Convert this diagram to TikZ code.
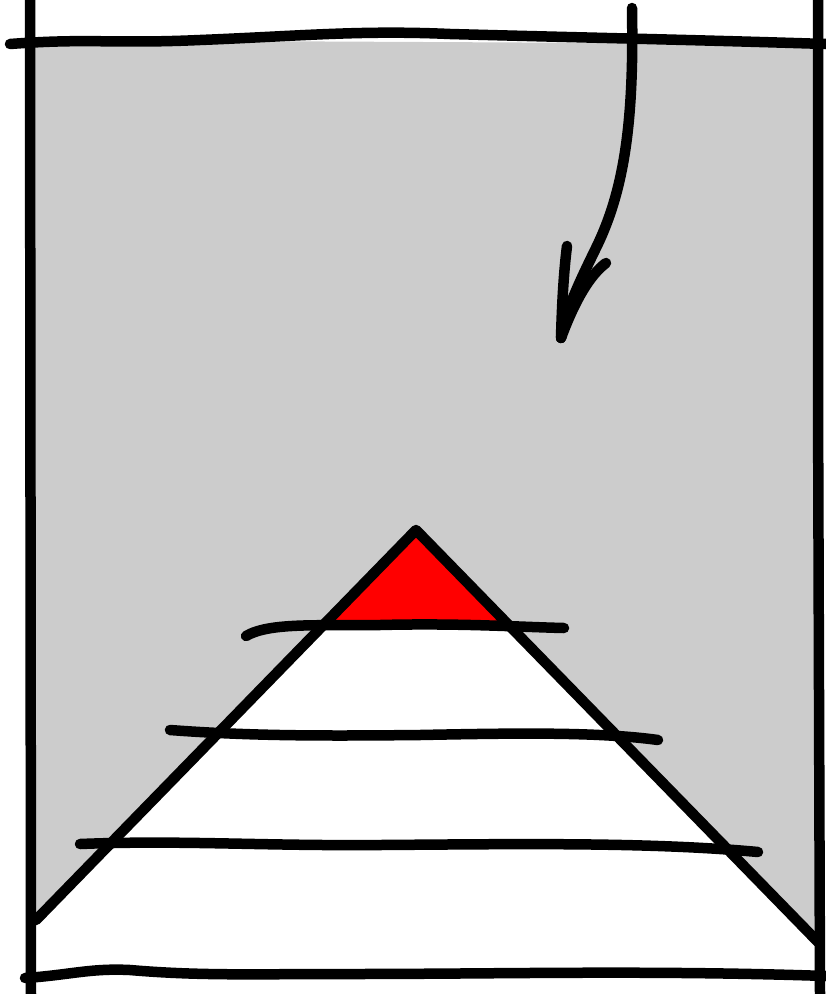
\documentclass[tikz,border=0pt]{standalone}
\begin{document}
\begin{tikzpicture}[x=1pt,y=-1pt,
  ink/.style={draw=black,line width=10.5pt,line cap=round,line join=round}]
\useasboundingbox (0,0) rectangle (826,994);
\definecolor{paper}{RGB}{204,204,204}
\definecolor{tipred}{RGB}{255,0,0}
% gray field
\fill[paper] (30,40) -- (818,44) -- (818,975) -- (30,975) -- cycle;
% white pyramid body
\fill[white] (416,530) -- (818,945) -- (818,975) -- (32,975) -- (32,920) -- cycle;
% red tip
\fill[tipred] (416,530) -- (506,624) -- (326,624) -- cycle;
% frame
\draw[ink] (30,0) -- (31,994);
\draw[ink] (818,0) -- (818,390) -- (820,994);
\draw[ink] (10,44) .. controls (90,38) and (110,44) .. (200,40)
  .. controls (300,36) and (360,30) .. (450,34)
  .. controls (600,38) and (700,40) .. (826,44);
\draw[ink] (25,978) .. controls (70,975) and (90,968) .. (130,970)
  .. controls (200,976) and (250,974) .. (350,974)
  .. controls (500,974) and (650,970) .. (826,976);
% pyramid sides
\draw[ink] (36,920) -- (416,530) -- (818,942);
% layer lines
\draw[ink] (246,636) .. controls (270,622) and (320,626) .. (380,625)
  .. controls (460,623) and (520,627) .. (564,628);
\draw[ink] (170,730) .. controls (250,736) and (320,736) .. (420,735)
  .. controls (520,733) and (600,732) .. (658,740);
\draw[ink] (80,844) .. controls (180,840) and (260,846) .. (380,845)
  .. controls (520,844) and (650,842) .. (758,852);
% arrow
\coordinate (a0) at (632,8);
\coordinate (tip) at (561,338);
\draw[ink] (a0) .. controls (634,120) and (625,190) .. (595,250)
  .. controls (578,285) and (566,310) .. (tip);
\draw[ink] (tip) .. controls (562,300) and (564,270) .. (567,246);
\draw[ink] (tip) .. controls (575,300) and (590,275) .. (606,263);
\end{tikzpicture}
\end{document}
